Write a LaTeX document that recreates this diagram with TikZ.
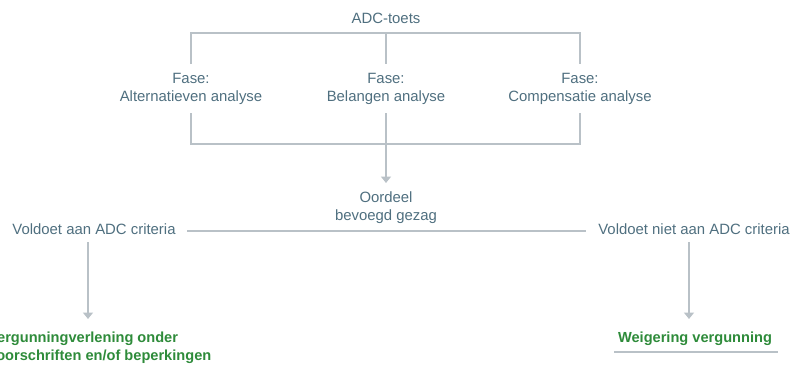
\documentclass[tikz,border=0pt]{standalone}
\usepackage{fontspec}
\setmainfont{Liberation Sans}
\usetikzlibrary{arrows.meta}
\definecolor{txt}{HTML}{4F6F7F}
\definecolor{ln}{HTML}{B9C1C7}
\definecolor{grn}{HTML}{2E8B3A}
\tikzset{
  lbl/.style={text=txt, font=\fontsize{14.9}{18}\selectfont, align=center, inner sep=1pt},
  res/.style={text=grn, font=\bfseries\fontsize{14.6}{18}\selectfont, inner sep=1pt},
  conn/.style={draw=ln, line width=2.3pt},
  arr/.style={conn, -{Triangle[width=10pt,length=6.5pt]}}
}
\begin{document}
\begin{tikzpicture}[x=1pt,y=-1pt]
\useasboundingbox (0,0) rectangle (792,365);
\node[lbl] (adc) at (386,18) {ADC-toets};
\node[lbl] (f1) at (191,89) {Fase:\\Alternatieven analyse};
\node[lbl] (f2) at (386,89) {Fase:\\Belangen analyse};
\node[lbl] (f3) at (580,89) {Fase:\\Compensatie analyse};
\node[lbl] (oor) at (386,208) {Oordeel\\bevoegd gezag};
\node[lbl] (v1) at (94,229) {Voldoet aan ADC criteria};
\node[lbl] (v2) at (694,229) {Voldoet niet aan ADC criteria};
\node[res, anchor=west, align=left] (r1) at (-13,348) {Vergunningverlening onder\\voorschriften en/of beperkingen};
\node[res] (r2) at (695,339) {Weigering vergunning};
% coordinates
\coordinate (tl) at (191,33);
\coordinate (tm) at (386,33);
\coordinate (tr) at (580,33);
\coordinate (bl) at (191,144);
\coordinate (bm) at (386,144);
\coordinate (br) at (580,144);
\coordinate (hl) at (187,231);
\coordinate (hr) at (586,231);
\coordinate (ul) at (614,352);
\coordinate (ur) at (778,352);
\coordinate (a0) at (386,183);
\coordinate (a1s) at (88,242);
\coordinate (a1e) at (88,319);
\coordinate (a2s) at (689,242);
\coordinate (a2e) at (689,319);
% top bracket
\draw[conn] (191,64) -- (tl) -- (tr) -- (580,64);
\draw[conn] (tm) -- (386,64);
% bottom bracket
\draw[conn] (191,113) -- (bl) -- (br) -- (580,113);
\draw[arr] (386,113) -- (a0);
% decision line
\draw[conn] (hl) -- (hr);
% result arrows
\draw[arr] (a1s) -- (a1e);
\draw[arr] (a2s) -- (a2e);
\draw[conn] (ul) -- (ur);
\end{tikzpicture}
\end{document}
